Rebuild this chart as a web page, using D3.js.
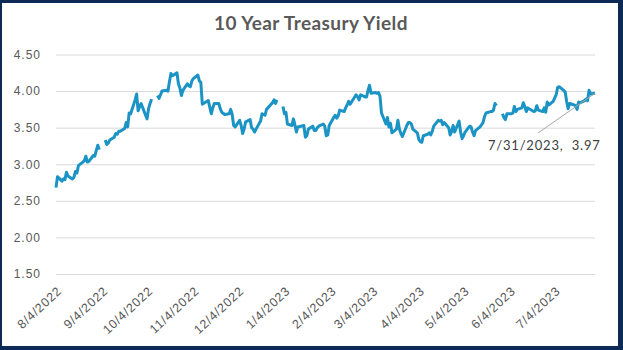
<!DOCTYPE html>
<html>
<head>
<meta charset="utf-8">
<script src="https://cdn.jsdelivr.net/npm/d3@7"></script>
<style>
  html, body { margin: 0; padding: 0; background: #ffffff; }
  svg { display: block; font-family: Lato, "Open Sans", sans-serif; }
</style>
</head>
<body>
<svg id="chart" width="623" height="350"></svg>
<script>
// Daily 10-year Treasury constant-maturity yield (%), null = no quote that day
const tradeDates = [
  "2022-08-04","2022-08-05","2022-08-08","2022-08-09","2022-08-10","2022-08-11","2022-08-12",
  "2022-08-15","2022-08-16","2022-08-17","2022-08-18","2022-08-19","2022-08-22","2022-08-23",
  "2022-08-24","2022-08-25","2022-08-26","2022-08-29","2022-08-30","2022-08-31",
  "2022-09-01","2022-09-02","2022-09-05","2022-09-06","2022-09-07","2022-09-08","2022-09-09",
  "2022-09-12","2022-09-13","2022-09-14","2022-09-15","2022-09-16","2022-09-19","2022-09-20",
  "2022-09-21","2022-09-22","2022-09-23","2022-09-26","2022-09-27","2022-09-28","2022-09-29",
  "2022-09-30",
  "2022-10-03","2022-10-04","2022-10-05","2022-10-06","2022-10-07","2022-10-10","2022-10-11",
  "2022-10-12","2022-10-13","2022-10-14","2022-10-17","2022-10-18","2022-10-19","2022-10-20",
  "2022-10-21","2022-10-24","2022-10-25","2022-10-26","2022-10-27","2022-10-28","2022-10-31",
  "2022-11-01","2022-11-02","2022-11-03","2022-11-04","2022-11-07","2022-11-08","2022-11-09",
  "2022-11-10","2022-11-14","2022-11-15","2022-11-16","2022-11-17","2022-11-18","2022-11-21",
  "2022-11-22","2022-11-23","2022-11-25","2022-11-28","2022-11-29","2022-11-30",
  "2022-12-01","2022-12-02","2022-12-05","2022-12-06","2022-12-07","2022-12-08","2022-12-09",
  "2022-12-12","2022-12-13","2022-12-14","2022-12-15","2022-12-16","2022-12-19","2022-12-20",
  "2022-12-21","2022-12-22","2022-12-23","2022-12-27","2022-12-28","2022-12-29","2022-12-30",
  "2023-01-02","2023-01-03","2023-01-04","2023-01-05","2023-01-06","2023-01-09","2023-01-10",
  "2023-01-11","2023-01-12","2023-01-13","2023-01-17","2023-01-18","2023-01-19","2023-01-20",
  "2023-01-23","2023-01-24","2023-01-25","2023-01-26","2023-01-27","2023-01-30","2023-01-31",
  "2023-02-01","2023-02-02","2023-02-03","2023-02-06","2023-02-07","2023-02-08","2023-02-09",
  "2023-02-10","2023-02-13","2023-02-14","2023-02-15","2023-02-16","2023-02-17","2023-02-21",
  "2023-02-22","2023-02-23","2023-02-24","2023-02-27","2023-02-28",
  "2023-03-01","2023-03-02","2023-03-03","2023-03-06","2023-03-07","2023-03-08","2023-03-09",
  "2023-03-10","2023-03-13","2023-03-14","2023-03-15","2023-03-16","2023-03-17","2023-03-20",
  "2023-03-21","2023-03-22","2023-03-23","2023-03-24","2023-03-27","2023-03-28","2023-03-29",
  "2023-03-30","2023-03-31",
  "2023-04-03","2023-04-04","2023-04-05","2023-04-06","2023-04-07","2023-04-10","2023-04-11",
  "2023-04-12","2023-04-13","2023-04-14","2023-04-17","2023-04-18","2023-04-19","2023-04-20",
  "2023-04-21","2023-04-24","2023-04-25","2023-04-26","2023-04-27","2023-04-28",
  "2023-05-01","2023-05-02","2023-05-03","2023-05-04","2023-05-05","2023-05-08","2023-05-09",
  "2023-05-10","2023-05-11","2023-05-12","2023-05-15","2023-05-16","2023-05-17","2023-05-18",
  "2023-05-19","2023-05-22","2023-05-23","2023-05-24","2023-05-25","2023-05-26","2023-05-29",
  "2023-05-30","2023-05-31",
  "2023-06-01","2023-06-02","2023-06-05","2023-06-06","2023-06-07","2023-06-08","2023-06-09",
  "2023-06-12","2023-06-13","2023-06-14","2023-06-15","2023-06-16","2023-06-20","2023-06-21",
  "2023-06-22","2023-06-23","2023-06-26","2023-06-27","2023-06-28","2023-06-29","2023-06-30",
  "2023-07-03","2023-07-05","2023-07-06","2023-07-07","2023-07-10","2023-07-11","2023-07-12",
  "2023-07-13","2023-07-14","2023-07-17","2023-07-18","2023-07-19","2023-07-20","2023-07-21",
  "2023-07-24","2023-07-25","2023-07-26","2023-07-27","2023-07-28","2023-07-31"
];

const yields = [
  2.68,2.83,2.77,2.80,2.79,2.89,2.84,
  2.80,2.82,2.90,2.88,2.98,3.03,3.05,
  3.11,3.03,3.04,3.12,3.11,3.19,
  3.26,3.20,null,3.33,3.27,3.29,3.33,
  3.37,3.42,3.41,3.45,3.45,3.49,3.57,
  3.51,3.70,3.69,3.88,3.96,3.73,3.79,
  3.83,
  3.67,3.62,3.76,3.83,3.89,null,3.94,
  3.90,3.95,4.00,4.01,4.00,4.13,4.24,
  4.21,4.25,4.10,4.04,3.94,4.01,4.10,
  4.07,4.06,4.14,4.17,4.22,4.14,4.12,
  3.82,3.87,3.78,3.69,3.77,3.83,3.83,
  3.76,3.71,3.68,3.69,3.75,3.68,
  3.53,3.51,3.60,3.53,3.42,3.48,3.58,
  3.61,3.50,3.48,3.44,3.48,3.59,3.69,
  3.68,3.67,3.75,3.84,3.88,3.83,3.88,
  null,3.79,3.69,3.71,3.55,3.53,3.62,
  3.54,3.44,3.51,3.53,3.37,3.39,3.48,
  3.52,3.46,3.46,3.50,3.52,3.55,3.52,
  3.39,3.40,3.53,3.64,3.67,3.63,3.66,
  3.74,3.72,3.77,3.81,3.86,3.82,3.95,
  3.92,3.88,3.95,3.92,3.92,
  4.01,4.08,3.97,3.98,3.97,3.98,3.93,
  3.70,3.55,3.64,3.51,3.56,3.43,3.48,
  3.60,3.48,3.42,3.38,3.53,3.57,3.57,
  3.55,3.48,
  3.43,3.34,3.31,3.30,3.39,3.41,3.43,
  3.40,3.45,3.52,3.60,3.59,3.60,3.54,
  3.57,3.50,3.40,3.45,3.53,3.44,
  3.59,3.44,3.35,3.39,3.44,3.52,3.51,
  3.44,3.39,3.46,3.51,3.54,3.57,3.65,
  3.70,3.72,3.72,3.74,3.83,3.80,null,
  3.69,3.64,
  3.61,3.69,3.69,3.70,3.79,3.72,3.75,
  3.77,3.84,3.79,3.72,3.77,3.72,3.73,
  3.80,3.74,3.72,3.77,3.71,3.85,3.81,
  3.86,3.95,4.05,4.06,4.01,3.99,3.86,
  3.76,3.83,3.81,3.80,3.75,3.85,3.84,
  3.87,3.89,3.87,4.01,3.96,3.97
];

const yTicks = [1.5, 2.0, 2.5, 3.0, 3.5, 4.0, 4.5];
const xTickLabels = [
  "8/4/2022","9/4/2022","10/4/2022","11/4/2022","12/4/2022","1/4/2023",
  "2/4/2023","3/4/2023","4/4/2023","5/4/2023","6/4/2023","7/4/2023"
];
const chartTitle = "10 Year Treasury Yield";

const parseISO = d3.timeParse("%Y-%m-%d");
const parseUS = d3.timeParse("%-m/%-d/%Y");
const series = tradeDates.map((d, i) => ({ date: parseISO(d), value: yields[i] }));
const tickDates = xTickLabels.map(parseUS);

const W = 623, H = 350;
const plot = { left: 56, right: 595, top: 54.5, bottom: 274 };

const svg = d3.select("#chart");

// white card with navy frame
svg.append("rect").attr("x", 0).attr("y", 0).attr("width", W).attr("height", H).attr("fill", "#0c2a55");
svg.append("rect").attr("x", 2).attr("y", 3).attr("width", W - 7).attr("height", H - 7).attr("fill", "#ffffff");

const x = d3.scaleTime()
  .domain([series[0].date, series[series.length - 1].date])
  .range([plot.left, plot.right]);
const y = d3.scaleLinear()
  .domain([1.5, 4.5])
  .range([plot.bottom, plot.top]);

// horizontal gridlines + value labels
const yAxis = d3.axisLeft(y)
  .tickValues(yTicks)
  .tickFormat(d3.format(".2f"))
  .tickSize(-(plot.right - plot.left))
  .tickPadding(15);
const gy = svg.append("g").attr("transform", `translate(${plot.left},0)`).call(yAxis);
gy.select(".domain").remove();
gy.selectAll(".tick line").attr("stroke", "#d9d9d9").attr("stroke-width", 1);
gy.selectAll(".tick text")
  .attr("fill", "#595959")
  .style("font-size", "12px")
  .style("letter-spacing", "1px");

// date labels along the bottom, slanted
const xAxis = d3.axisBottom(x)
  .tickValues(tickDates)
  .tickFormat(d3.timeFormat("%-m/%-d/%Y"))
  .tickSize(0);
const gx = svg.append("g").attr("transform", `translate(0,${plot.bottom})`).call(xAxis);
gx.select(".domain").remove();
gx.selectAll(".tick text")
  .attr("fill", "#595959")
  .style("font-size", "12.5px")
  .style("letter-spacing", "0.8px")
  .attr("text-anchor", "end")
  .attr("dy", null)
  .attr("y", null)
  .attr("transform", "translate(6,18) rotate(-43)");

// yield line, broken where a day has no quote
const line = d3.line()
  .defined(d => d.value != null)
  .x(d => x(d.date))
  .y(d => y(d.value));
svg.append("path")
  .datum(series)
  .attr("fill", "none")
  .attr("stroke", "#1b93c4")
  .attr("stroke-width", 3)
  .attr("stroke-linejoin", "round")
  .attr("d", line);

// title
svg.append("text")
  .attr("x", 311)
  .attr("y", 30)
  .attr("text-anchor", "middle")
  .attr("fill", "#595959")
  .style("font-size", "19px")
  .style("font-weight", "bold")
  .style("letter-spacing", "0.4px")
  .text(chartTitle);

// callout for the latest reading
const last = series[series.length - 1];
const fmtCallout = d3.timeFormat("%-m/%-d/%Y");
svg.append("line")
  .attr("x1", 538).attr("y1", 133)
  .attr("x2", x(last.date)).attr("y2", y(last.value))
  .attr("stroke", "#a6a6a6").attr("stroke-width", 1);
svg.append("text")
  .attr("x", 488)
  .attr("y", 150)
  .attr("fill", "#404040")
  .style("font-size", "13px")
  .style("letter-spacing", "0.8px")
  .style("white-space", "pre")
  .text(`${fmtCallout(last.date)},  ${last.value.toFixed(2)}`);
</script>
</body>
</html>
